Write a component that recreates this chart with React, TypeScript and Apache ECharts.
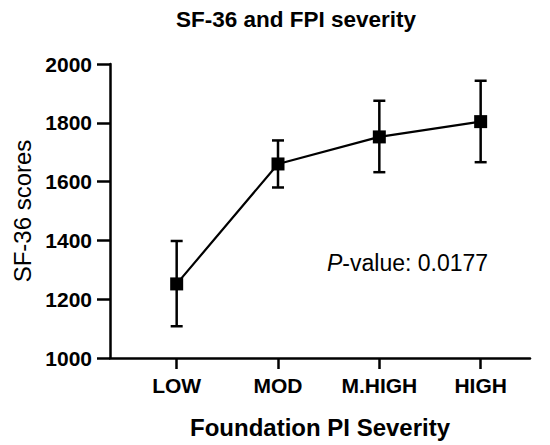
import React, { useEffect, useRef } from "react";
import * as echarts from "echarts";

const categories = ["LOW", "MOD", "M.HIGH", "HIGH"];
const means = [1252, 1660, 1752, 1804];
const lower = [1108, 1580, 1632, 1666];
const upper = [1398, 1740, 1875, 1943];
const yTicks = { min: 1000, max: 2000, interval: 200 };

const FONT = "Liberation Sans, Arial, sans-serif";
const INK = "#000000";

export default function App() {
  const ref = useRef<HTMLDivElement>(null);
  useEffect(() => {
    document.body.style.margin = "0";
    if (!ref.current) return;
    const chart = echarts.init(ref.current, null, { renderer: "svg" });
    const idx = categories.map((_, i) => i);
    const lineData = means.map((v, i) => [i, v]);
    const errData = means.map((_, i) => [i, lower[i], upper[i]]);
    chart.setOption({
      animation: false,
      backgroundColor: "#ffffff",
      title: {
        text: "SF-36 and FPI severity",
        left: 291,
        top: 3,
        textAlign: "center",
        textStyle: { fontFamily: FONT, fontWeight: "bold", fontSize: 22.5, color: INK },
      },
      grid: { left: 110, right: 20, top: 64, bottom: 87 },
      xAxis: {
        type: "value",
        min: -0.658,
        max: 3.487,
        splitLine: { show: false },
        axisLine: { show: true, onZero: false, lineStyle: { color: INK, width: 2.5 } },
        axisTick: { show: true, customValues: idx, length: 11, lineStyle: { color: INK, width: 2.5 } },
        axisLabel: {
          customValues: idx,
          formatter: (v: number) => categories[Math.round(v)] ?? "",
          fontFamily: FONT,
          fontWeight: "bold",
          fontSize: 21,
          color: INK,
          margin: 17,
        },
        name: "Foundation PI Severity",
        nameLocation: "middle",
        nameGap: 57,
        nameTextStyle: { fontFamily: FONT, fontWeight: "bold", fontSize: 24, color: INK },
      },
      yAxis: {
        type: "value",
        min: yTicks.min,
        max: yTicks.max,
        interval: yTicks.interval,
        splitLine: { show: false },
        axisLine: { show: true, onZero: false, lineStyle: { color: INK, width: 2.5 } },
        axisTick: { show: true, length: 13, lineStyle: { color: INK, width: 2.5 } },
        axisLabel: {
          formatter: (v: number) => String(v),
          fontFamily: FONT,
          fontWeight: "bold",
          fontSize: 21,
          color: INK,
          margin: 18,
        },
        name: "SF-36 scores",
        nameLocation: "middle",
        nameGap: 76,
        nameTextStyle: { fontFamily: FONT, fontSize: 24, color: INK },
      },
      graphic: [
        {
          type: "text",
          left: 327,
          top: 251,
          style: {
            text: "{i|P}-value: 0.0177",
            font: `23px ${FONT}`,
            fill: INK,
            rich: {
              i: { fontStyle: "italic", fontFamily: FONT, fontSize: 23, fill: INK },
            },
          },
        },
      ],
      series: [
        {
          type: "custom",
          data: errData,
          z: 3,
          renderItem: (params: any, api: any) => {
            const x = api.value(0);
            const lo = api.coord([x, api.value(1)]);
            const hi = api.coord([x, api.value(2)]);
            const cap = 6;
            const style = { stroke: INK, lineWidth: 2.5 };
            return {
              type: "group",
              children: [
                { type: "line", shape: { x1: lo[0], y1: lo[1], x2: hi[0], y2: hi[1] }, style },
                { type: "line", shape: { x1: lo[0] - cap, y1: lo[1], x2: lo[0] + cap, y2: lo[1] }, style },
                { type: "line", shape: { x1: hi[0] - cap, y1: hi[1], x2: hi[0] + cap, y2: hi[1] }, style },
              ],
            };
          },
        },
        {
          type: "line",
          data: lineData,
          z: 4,
          symbol: "rect",
          symbolSize: 13,
          itemStyle: { color: INK },
          lineStyle: { color: INK, width: 2.2 },
        },
      ],
    });
    return () => chart.dispose();
  }, []);
  return <div ref={ref} style={{ width: 550, height: 445 }} />;
}
